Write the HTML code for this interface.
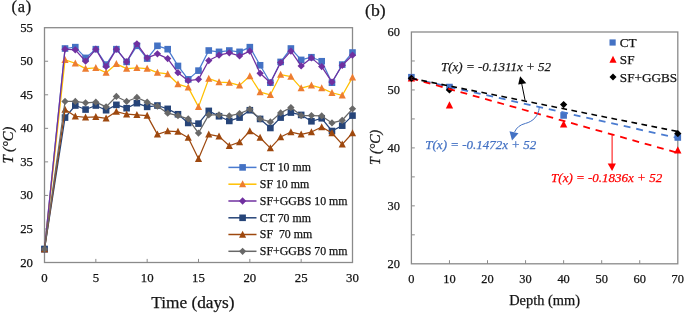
<!DOCTYPE html>
<html><head><meta charset="utf-8"><title>Temperature charts</title>
<style>html,body{margin:0;padding:0;background:#fff;}body{width:685px;height:313px;position:relative;overflow:hidden;font-family:"Liberation Serif",serif;}</style>
</head><body>
<svg width="685" height="313" viewBox="0 0 685 313" style="position:absolute;left:0;top:0;filter:blur(0.35px)">
<rect width="685" height="313" fill="#fff"/>
<rect x="44.5" y="27.7" width="308" height="234.8" fill="none" stroke="#8a8a8a" stroke-width="1.3"/>
<path d="M44.5 228.96h3.6M44.5 195.41h3.6M44.5 161.87h3.6M44.5 128.33h3.6M44.5 94.79h3.6M44.5 61.24h3.6M95.83 262.5v-3.6M147.17 262.5v-3.6M198.5 262.5v-3.6M249.83 262.5v-3.6M301.17 262.5v-3.6" stroke="#8a8a8a" stroke-width="1" fill="none"/>
<g font-family='"Liberation Serif", serif' font-size="12.8" fill="#141414" stroke="#141414" stroke-width="0.25">
<text x="33" y="266.5" text-anchor="end">20</text>
<text x="33" y="232.96" text-anchor="end">25</text>
<text x="33" y="199.41" text-anchor="end">30</text>
<text x="33" y="165.87" text-anchor="end">35</text>
<text x="33" y="132.33" text-anchor="end">40</text>
<text x="33" y="98.79" text-anchor="end">45</text>
<text x="33" y="65.24" text-anchor="end">50</text>
<text x="33" y="31.7" text-anchor="end">55</text>
<text x="44.5" y="282.4" text-anchor="middle">0</text>
<text x="95.83" y="282.4" text-anchor="middle">5</text>
<text x="147.17" y="282.4" text-anchor="middle">10</text>
<text x="198.5" y="282.4" text-anchor="middle">15</text>
<text x="249.83" y="282.4" text-anchor="middle">20</text>
<text x="301.17" y="282.4" text-anchor="middle">25</text>
<text x="352.5" y="282.4" text-anchor="middle">30</text>
</g>
<polyline points="44.5,249.08 65.03,48.5 75.3,47.15 85.57,57.89 95.83,49.17 106.1,64.6 116.37,49.17 126.63,61.91 136.9,45.81 147.17,58.56 157.43,45.81 167.7,49.17 177.97,65.94 188.23,79.36 198.5,70.63 208.77,50.51 219.03,51.85 229.3,50.51 239.57,51.85 249.83,47.15 260.1,65.27 270.37,82.71 280.63,61.91 290.9,48.5 301.17,59.9 311.43,57.22 321.7,61.24 331.97,82.71 342.23,64.6 352.5,52.52" fill="none" stroke="#4a7bd0" stroke-width="1.25" stroke-linejoin="round"/>
<rect x="41.2" y="245.78" width="6.6" height="6.6" fill="#4472c4"/><rect x="61.73" y="45.2" width="6.6" height="6.6" fill="#4472c4"/><rect x="72" y="43.85" width="6.6" height="6.6" fill="#4472c4"/><rect x="82.27" y="54.59" width="6.6" height="6.6" fill="#4472c4"/><rect x="92.53" y="45.87" width="6.6" height="6.6" fill="#4472c4"/><rect x="102.8" y="61.3" width="6.6" height="6.6" fill="#4472c4"/><rect x="113.07" y="45.87" width="6.6" height="6.6" fill="#4472c4"/><rect x="123.33" y="58.61" width="6.6" height="6.6" fill="#4472c4"/><rect x="133.6" y="42.51" width="6.6" height="6.6" fill="#4472c4"/><rect x="143.87" y="55.26" width="6.6" height="6.6" fill="#4472c4"/><rect x="154.13" y="42.51" width="6.6" height="6.6" fill="#4472c4"/><rect x="164.4" y="45.87" width="6.6" height="6.6" fill="#4472c4"/><rect x="174.67" y="62.64" width="6.6" height="6.6" fill="#4472c4"/><rect x="184.93" y="76.06" width="6.6" height="6.6" fill="#4472c4"/><rect x="195.2" y="67.33" width="6.6" height="6.6" fill="#4472c4"/><rect x="205.47" y="47.21" width="6.6" height="6.6" fill="#4472c4"/><rect x="215.73" y="48.55" width="6.6" height="6.6" fill="#4472c4"/><rect x="226" y="47.21" width="6.6" height="6.6" fill="#4472c4"/><rect x="236.27" y="48.55" width="6.6" height="6.6" fill="#4472c4"/><rect x="246.53" y="43.85" width="6.6" height="6.6" fill="#4472c4"/><rect x="256.8" y="61.97" width="6.6" height="6.6" fill="#4472c4"/><rect x="267.07" y="79.41" width="6.6" height="6.6" fill="#4472c4"/><rect x="277.33" y="58.61" width="6.6" height="6.6" fill="#4472c4"/><rect x="287.6" y="45.2" width="6.6" height="6.6" fill="#4472c4"/><rect x="297.87" y="56.6" width="6.6" height="6.6" fill="#4472c4"/><rect x="308.13" y="53.92" width="6.6" height="6.6" fill="#4472c4"/><rect x="318.4" y="57.94" width="6.6" height="6.6" fill="#4472c4"/><rect x="328.67" y="79.41" width="6.6" height="6.6" fill="#4472c4"/><rect x="338.93" y="61.3" width="6.6" height="6.6" fill="#4472c4"/><rect x="349.2" y="49.22" width="6.6" height="6.6" fill="#4472c4"/>
<polyline points="44.5,249.08 65.03,59.9 75.3,63.26 85.57,68.62 95.83,67.95 106.1,72.65 116.37,63.93 126.63,68.62 136.9,67.95 147.17,68.62 157.43,72.65 167.7,73.99 177.97,84.05 188.23,87.41 198.5,106.86 208.77,78.69 219.03,82.04 229.3,82.71 239.57,85.39 249.83,76 260.1,92.1 270.37,94.79 280.63,74.66 290.9,76.67 301.17,88.08 311.43,85.39 321.7,88.08 331.97,92.77 342.23,95.46 352.5,77.34" fill="none" stroke="#ffc000" stroke-width="1.25" stroke-linejoin="round"/>
<path d="M44.5 245.24L48.06 252.23L40.94 252.23Z" fill="#ed7d31"/><path d="M65.03 56.05L68.6 63.05L61.47 63.05Z" fill="#ed7d31"/><path d="M75.3 59.41L78.86 66.4L71.74 66.4Z" fill="#ed7d31"/><path d="M85.57 64.77L89.13 71.77L82 71.77Z" fill="#ed7d31"/><path d="M95.83 64.1L99.4 71.1L92.27 71.1Z" fill="#ed7d31"/><path d="M106.1 68.8L109.66 75.8L102.54 75.8Z" fill="#ed7d31"/><path d="M116.37 60.08L119.93 67.07L112.8 67.07Z" fill="#ed7d31"/><path d="M126.63 64.77L130.2 71.77L123.07 71.77Z" fill="#ed7d31"/><path d="M136.9 64.1L140.46 71.1L133.34 71.1Z" fill="#ed7d31"/><path d="M147.17 64.77L150.73 71.77L143.6 71.77Z" fill="#ed7d31"/><path d="M157.43 68.8L161 75.8L153.87 75.8Z" fill="#ed7d31"/><path d="M167.7 70.14L171.26 77.14L164.14 77.14Z" fill="#ed7d31"/><path d="M177.97 80.2L181.53 87.2L174.4 87.2Z" fill="#ed7d31"/><path d="M188.23 83.56L191.8 90.55L184.67 90.55Z" fill="#ed7d31"/><path d="M198.5 103.01L202.06 110.01L194.94 110.01Z" fill="#ed7d31"/><path d="M208.77 74.84L212.33 81.83L205.2 81.83Z" fill="#ed7d31"/><path d="M219.03 78.19L222.6 85.19L215.47 85.19Z" fill="#ed7d31"/><path d="M229.3 78.86L232.86 85.86L225.74 85.86Z" fill="#ed7d31"/><path d="M239.57 81.55L243.13 88.54L236 88.54Z" fill="#ed7d31"/><path d="M249.83 72.15L253.4 79.15L246.27 79.15Z" fill="#ed7d31"/><path d="M260.1 88.25L263.66 95.25L256.54 95.25Z" fill="#ed7d31"/><path d="M270.37 90.94L273.93 97.93L266.8 97.93Z" fill="#ed7d31"/><path d="M280.63 70.81L284.2 77.81L277.07 77.81Z" fill="#ed7d31"/><path d="M290.9 72.82L294.46 79.82L287.34 79.82Z" fill="#ed7d31"/><path d="M301.17 84.23L304.73 91.23L297.6 91.23Z" fill="#ed7d31"/><path d="M311.43 81.55L315 88.54L307.87 88.54Z" fill="#ed7d31"/><path d="M321.7 84.23L325.26 91.23L318.14 91.23Z" fill="#ed7d31"/><path d="M331.97 88.93L335.53 95.92L328.4 95.92Z" fill="#ed7d31"/><path d="M342.23 91.61L345.8 98.6L338.67 98.6Z" fill="#ed7d31"/><path d="M352.5 73.5L356.06 80.49L348.94 80.49Z" fill="#ed7d31"/>
<polyline points="44.5,249.08 65.03,49.17 75.3,49.84 85.57,61.24 95.83,49.17 106.1,66.61 116.37,49.17 126.63,61.91 136.9,43.8 147.17,57.89 157.43,53.86 167.7,58.56 177.97,72.65 188.23,80.7 198.5,79.36 208.77,60.57 219.03,55.21 229.3,52.86 239.57,55.88 249.83,51.18 260.1,73.32 270.37,82.71 280.63,62.58 290.9,51.18 301.17,65.94 311.43,57.89 321.7,66.61 331.97,82.04 342.23,65.27 352.5,55.21" fill="none" stroke="#7030a0" stroke-width="1.25" stroke-linejoin="round"/>
<path d="M44.5 245.45L48.13 249.08L44.5 252.71L40.87 249.08Z" fill="#7030a0"/><path d="M65.03 45.54L68.66 49.17L65.03 52.8L61.4 49.17Z" fill="#7030a0"/><path d="M75.3 46.21L78.93 49.84L75.3 53.47L71.67 49.84Z" fill="#7030a0"/><path d="M85.57 57.61L89.2 61.24L85.57 64.87L81.94 61.24Z" fill="#7030a0"/><path d="M95.83 45.54L99.46 49.17L95.83 52.8L92.2 49.17Z" fill="#7030a0"/><path d="M106.1 62.98L109.73 66.61L106.1 70.24L102.47 66.61Z" fill="#7030a0"/><path d="M116.37 45.54L120 49.17L116.37 52.8L112.74 49.17Z" fill="#7030a0"/><path d="M126.63 58.28L130.26 61.91L126.63 65.54L123 61.91Z" fill="#7030a0"/><path d="M136.9 40.17L140.53 43.8L136.9 47.43L133.27 43.8Z" fill="#7030a0"/><path d="M147.17 54.26L150.8 57.89L147.17 61.52L143.54 57.89Z" fill="#7030a0"/><path d="M157.43 50.23L161.06 53.86L157.43 57.49L153.8 53.86Z" fill="#7030a0"/><path d="M167.7 54.93L171.33 58.56L167.7 62.19L164.07 58.56Z" fill="#7030a0"/><path d="M177.97 69.02L181.6 72.65L177.97 76.28L174.34 72.65Z" fill="#7030a0"/><path d="M188.23 77.07L191.86 80.7L188.23 84.33L184.6 80.7Z" fill="#7030a0"/><path d="M198.5 75.73L202.13 79.36L198.5 82.99L194.87 79.36Z" fill="#7030a0"/><path d="M208.77 56.94L212.4 60.57L208.77 64.2L205.14 60.57Z" fill="#7030a0"/><path d="M219.03 51.58L222.66 55.21L219.03 58.84L215.4 55.21Z" fill="#7030a0"/><path d="M229.3 49.23L232.93 52.86L229.3 56.49L225.67 52.86Z" fill="#7030a0"/><path d="M239.57 52.25L243.2 55.88L239.57 59.51L235.94 55.88Z" fill="#7030a0"/><path d="M249.83 47.55L253.46 51.18L249.83 54.81L246.2 51.18Z" fill="#7030a0"/><path d="M260.1 69.69L263.73 73.32L260.1 76.95L256.47 73.32Z" fill="#7030a0"/><path d="M270.37 79.08L274 82.71L270.37 86.34L266.74 82.71Z" fill="#7030a0"/><path d="M280.63 58.95L284.26 62.58L280.63 66.21L277 62.58Z" fill="#7030a0"/><path d="M290.9 47.55L294.53 51.18L290.9 54.81L287.27 51.18Z" fill="#7030a0"/><path d="M301.17 62.31L304.8 65.94L301.17 69.57L297.54 65.94Z" fill="#7030a0"/><path d="M311.43 54.26L315.06 57.89L311.43 61.52L307.8 57.89Z" fill="#7030a0"/><path d="M321.7 62.98L325.33 66.61L321.7 70.24L318.07 66.61Z" fill="#7030a0"/><path d="M331.97 78.41L335.6 82.04L331.97 85.67L328.34 82.04Z" fill="#7030a0"/><path d="M342.23 61.64L345.86 65.27L342.23 68.9L338.6 65.27Z" fill="#7030a0"/><path d="M352.5 51.58L356.13 55.21L352.5 58.84L348.87 55.21Z" fill="#7030a0"/>
<polyline points="44.5,249.08 65.03,117.59 75.3,105.52 85.57,109.54 95.83,105.52 106.1,110.22 116.37,104.85 126.63,108.2 136.9,103.17 147.17,106.86 157.43,105.52 167.7,108.87 177.97,114.24 188.23,122.96 198.5,123.63 208.77,110.89 219.03,116.25 229.3,120.95 239.57,117.59 249.83,110.22 260.1,118.94 270.37,127.99 280.63,117.59 290.9,112.56 301.17,114.91 311.43,121.28 321.7,118.27 331.97,131.01 342.23,125.65 352.5,115.58" fill="none" stroke="#264478" stroke-width="1.25" stroke-linejoin="round"/>
<rect x="41.2" y="245.78" width="6.6" height="6.6" fill="#264478"/><rect x="61.73" y="114.29" width="6.6" height="6.6" fill="#264478"/><rect x="72" y="102.22" width="6.6" height="6.6" fill="#264478"/><rect x="82.27" y="106.24" width="6.6" height="6.6" fill="#264478"/><rect x="92.53" y="102.22" width="6.6" height="6.6" fill="#264478"/><rect x="102.8" y="106.92" width="6.6" height="6.6" fill="#264478"/><rect x="113.07" y="101.55" width="6.6" height="6.6" fill="#264478"/><rect x="123.33" y="104.9" width="6.6" height="6.6" fill="#264478"/><rect x="133.6" y="99.87" width="6.6" height="6.6" fill="#264478"/><rect x="143.87" y="103.56" width="6.6" height="6.6" fill="#264478"/><rect x="154.13" y="102.22" width="6.6" height="6.6" fill="#264478"/><rect x="164.4" y="105.57" width="6.6" height="6.6" fill="#264478"/><rect x="174.67" y="110.94" width="6.6" height="6.6" fill="#264478"/><rect x="184.93" y="119.66" width="6.6" height="6.6" fill="#264478"/><rect x="195.2" y="120.33" width="6.6" height="6.6" fill="#264478"/><rect x="205.47" y="107.59" width="6.6" height="6.6" fill="#264478"/><rect x="215.73" y="112.95" width="6.6" height="6.6" fill="#264478"/><rect x="226" y="117.65" width="6.6" height="6.6" fill="#264478"/><rect x="236.27" y="114.29" width="6.6" height="6.6" fill="#264478"/><rect x="246.53" y="106.92" width="6.6" height="6.6" fill="#264478"/><rect x="256.8" y="115.64" width="6.6" height="6.6" fill="#264478"/><rect x="267.07" y="124.69" width="6.6" height="6.6" fill="#264478"/><rect x="277.33" y="114.29" width="6.6" height="6.6" fill="#264478"/><rect x="287.6" y="109.26" width="6.6" height="6.6" fill="#264478"/><rect x="297.87" y="111.61" width="6.6" height="6.6" fill="#264478"/><rect x="308.13" y="117.98" width="6.6" height="6.6" fill="#264478"/><rect x="318.4" y="114.97" width="6.6" height="6.6" fill="#264478"/><rect x="328.67" y="127.71" width="6.6" height="6.6" fill="#264478"/><rect x="338.93" y="122.35" width="6.6" height="6.6" fill="#264478"/><rect x="349.2" y="112.28" width="6.6" height="6.6" fill="#264478"/>
<polyline points="44.5,249.08 65.03,109.54 75.3,116.25 85.57,117.26 95.83,116.92 106.1,118.27 116.37,111.56 126.63,114.24 136.9,114.91 147.17,115.58 157.43,134.37 167.7,131.01 177.97,131.68 188.23,137.72 198.5,158.85 208.77,134.37 219.03,136.38 229.3,145.77 239.57,142.08 249.83,131.01 260.1,137.72 270.37,148.12 280.63,137.05 290.9,132.02 301.17,134.37 311.43,132.02 321.7,126.99 331.97,133.02 342.23,144.43 352.5,133.02" fill="none" stroke="#9e480e" stroke-width="1.25" stroke-linejoin="round"/>
<path d="M44.5 245.24L48.06 252.23L40.94 252.23Z" fill="#9e480e"/><path d="M65.03 105.7L68.6 112.69L61.47 112.69Z" fill="#9e480e"/><path d="M75.3 112.41L78.86 119.4L71.74 119.4Z" fill="#9e480e"/><path d="M85.57 113.41L89.13 120.41L82 120.41Z" fill="#9e480e"/><path d="M95.83 113.08L99.4 120.07L92.27 120.07Z" fill="#9e480e"/><path d="M106.1 114.42L109.66 121.41L102.54 121.41Z" fill="#9e480e"/><path d="M116.37 107.71L119.93 114.71L112.8 114.71Z" fill="#9e480e"/><path d="M126.63 110.39L130.2 117.39L123.07 117.39Z" fill="#9e480e"/><path d="M136.9 111.06L140.46 118.06L133.34 118.06Z" fill="#9e480e"/><path d="M147.17 111.73L150.73 118.73L143.6 118.73Z" fill="#9e480e"/><path d="M157.43 130.52L161 137.51L153.87 137.51Z" fill="#9e480e"/><path d="M167.7 127.16L171.26 134.16L164.14 134.16Z" fill="#9e480e"/><path d="M177.97 127.84L181.53 134.83L174.4 134.83Z" fill="#9e480e"/><path d="M188.23 133.87L191.8 140.87L184.67 140.87Z" fill="#9e480e"/><path d="M198.5 155L202.06 162L194.94 162Z" fill="#9e480e"/><path d="M208.77 130.52L212.33 137.51L205.2 137.51Z" fill="#9e480e"/><path d="M219.03 132.53L222.6 139.53L215.47 139.53Z" fill="#9e480e"/><path d="M229.3 141.92L232.86 148.92L225.74 148.92Z" fill="#9e480e"/><path d="M239.57 138.23L243.13 145.23L236 145.23Z" fill="#9e480e"/><path d="M249.83 127.16L253.4 134.16L246.27 134.16Z" fill="#9e480e"/><path d="M260.1 133.87L263.66 140.87L256.54 140.87Z" fill="#9e480e"/><path d="M270.37 144.27L273.93 151.27L266.8 151.27Z" fill="#9e480e"/><path d="M280.63 133.2L284.2 140.2L277.07 140.2Z" fill="#9e480e"/><path d="M290.9 128.17L294.46 135.17L287.34 135.17Z" fill="#9e480e"/><path d="M301.17 130.52L304.73 137.51L297.6 137.51Z" fill="#9e480e"/><path d="M311.43 128.17L315 135.17L307.87 135.17Z" fill="#9e480e"/><path d="M321.7 123.14L325.26 130.14L318.14 130.14Z" fill="#9e480e"/><path d="M331.97 129.18L335.53 136.17L328.4 136.17Z" fill="#9e480e"/><path d="M342.23 140.58L345.8 147.58L338.67 147.58Z" fill="#9e480e"/><path d="M352.5 129.18L356.06 136.17L348.94 136.17Z" fill="#9e480e"/>
<polyline points="44.5,249.08 65.03,101.49 75.3,101.49 85.57,102.84 95.83,102.17 106.1,106.86 116.37,96.46 126.63,101.49 136.9,97.47 147.17,102.17 157.43,106.19 167.7,113.23 177.97,115.58 188.23,118.94 198.5,133.02 208.77,114.91 219.03,114.91 229.3,115.92 239.57,113.57 249.83,109.21 260.1,118.94 270.37,121.96 280.63,112.9 290.9,107.53 301.17,115.58 311.43,115.58 321.7,115.92 331.97,122.96 342.23,120.28 352.5,108.87" fill="none" stroke="#686868" stroke-width="1.25" stroke-linejoin="round"/>
<path d="M44.5 245.45L48.13 249.08L44.5 252.71L40.87 249.08Z" fill="#686868"/><path d="M65.03 97.86L68.66 101.49L65.03 105.12L61.4 101.49Z" fill="#686868"/><path d="M75.3 97.86L78.93 101.49L75.3 105.12L71.67 101.49Z" fill="#686868"/><path d="M85.57 99.21L89.2 102.84L85.57 106.47L81.94 102.84Z" fill="#686868"/><path d="M95.83 98.54L99.46 102.17L95.83 105.8L92.2 102.17Z" fill="#686868"/><path d="M106.1 103.23L109.73 106.86L106.1 110.49L102.47 106.86Z" fill="#686868"/><path d="M116.37 92.83L120 96.46L116.37 100.09L112.74 96.46Z" fill="#686868"/><path d="M126.63 97.86L130.26 101.49L126.63 105.12L123 101.49Z" fill="#686868"/><path d="M136.9 93.84L140.53 97.47L136.9 101.1L133.27 97.47Z" fill="#686868"/><path d="M147.17 98.54L150.8 102.17L147.17 105.8L143.54 102.17Z" fill="#686868"/><path d="M157.43 102.56L161.06 106.19L157.43 109.82L153.8 106.19Z" fill="#686868"/><path d="M167.7 109.6L171.33 113.23L167.7 116.86L164.07 113.23Z" fill="#686868"/><path d="M177.97 111.95L181.6 115.58L177.97 119.21L174.34 115.58Z" fill="#686868"/><path d="M188.23 115.31L191.86 118.94L188.23 122.57L184.6 118.94Z" fill="#686868"/><path d="M198.5 129.39L202.13 133.02L198.5 136.65L194.87 133.02Z" fill="#686868"/><path d="M208.77 111.28L212.4 114.91L208.77 118.54L205.14 114.91Z" fill="#686868"/><path d="M219.03 111.28L222.66 114.91L219.03 118.54L215.4 114.91Z" fill="#686868"/><path d="M229.3 112.29L232.93 115.92L229.3 119.55L225.67 115.92Z" fill="#686868"/><path d="M239.57 109.94L243.2 113.57L239.57 117.2L235.94 113.57Z" fill="#686868"/><path d="M249.83 105.58L253.46 109.21L249.83 112.84L246.2 109.21Z" fill="#686868"/><path d="M260.1 115.31L263.73 118.94L260.1 122.57L256.47 118.94Z" fill="#686868"/><path d="M270.37 118.33L274 121.96L270.37 125.59L266.74 121.96Z" fill="#686868"/><path d="M280.63 109.27L284.26 112.9L280.63 116.53L277 112.9Z" fill="#686868"/><path d="M290.9 103.9L294.53 107.53L290.9 111.16L287.27 107.53Z" fill="#686868"/><path d="M301.17 111.95L304.8 115.58L301.17 119.21L297.54 115.58Z" fill="#686868"/><path d="M311.43 111.95L315.06 115.58L311.43 119.21L307.8 115.58Z" fill="#686868"/><path d="M321.7 112.29L325.33 115.92L321.7 119.55L318.07 115.92Z" fill="#686868"/><path d="M331.97 119.33L335.6 122.96L331.97 126.59L328.34 122.96Z" fill="#686868"/><path d="M342.23 116.65L345.86 120.28L342.23 123.91L338.6 120.28Z" fill="#686868"/><path d="M352.5 105.24L356.13 108.87L352.5 112.5L348.87 108.87Z" fill="#686868"/>
<path d="M228.4 167.4H256.5" stroke="#4a7bd0" stroke-width="1.5"/>
<rect x="239.3" y="164.1" width="6.6" height="6.6" fill="#4472c4"/>
<path d="M228.4 184.2H256.5" stroke="#ffc000" stroke-width="1.5"/>
<path d="M242.6 180.35L246.16 187.35L239.04 187.35Z" fill="#ed7d31"/>
<path d="M228.4 201H256.5" stroke="#7030a0" stroke-width="1.5"/>
<path d="M242.6 197.37L246.23 201L242.6 204.63L238.97 201Z" fill="#7030a0"/>
<path d="M228.4 217.8H256.5" stroke="#264478" stroke-width="1.5"/>
<rect x="239.3" y="214.5" width="6.6" height="6.6" fill="#264478"/>
<path d="M228.4 234.5H256.5" stroke="#9e480e" stroke-width="1.5"/>
<path d="M242.6 230.65L246.16 237.65L239.04 237.65Z" fill="#9e480e"/>
<path d="M228.4 251.3H256.5" stroke="#686868" stroke-width="1.5"/>
<path d="M242.6 247.67L246.23 251.3L242.6 254.93L238.97 251.3Z" fill="#686868"/>
<g font-family='"Liberation Serif", serif' font-size="11.85" fill="#141414" stroke="#141414" stroke-width="0.25">
<text x="259.8" y="171.3">CT 10 mm</text>
<text x="259.8" y="188.1">SF 10 mm</text>
<text x="259.8" y="204.9">SF+GGBS 10 mm</text>
<text x="259.8" y="221.7">CT 70 mm</text>
<text x="259.8" y="238.4">SF  70 mm</text>
<text x="259.8" y="255.2">SF+GGBS 70 mm</text>
</g>
<text x="11.6" y="12.1" font-family='"Liberation Serif", serif' font-size="16.4" letter-spacing="0.75" fill="#141414" stroke="#141414" stroke-width="0.25">(a)</text>
<text x="192.9" y="308.3" text-anchor="middle" font-family='"Liberation Serif", serif' font-size="17.3" fill="#141414" stroke="#141414" stroke-width="0.25">Time (days)</text>
<text transform="translate(12.9 145) rotate(-90)" text-anchor="middle" font-family='"Liberation Serif", serif' font-size="14.6" font-style="italic" fill="#141414" stroke="#141414" stroke-width="0.25">T (°C)</text>
<rect x="411.4" y="32" width="266.4" height="231.8" fill="none" stroke="#8a8a8a" stroke-width="1.3"/>
<path d="M411.4 234.83h3.4M411.4 205.85h3.4M411.4 176.88h3.4M411.4 147.9h3.4M411.4 118.93h3.4M411.4 89.95h3.4M411.4 60.98h3.4M449.46 263.8v-3.6M487.51 263.8v-3.6M525.57 263.8v-3.6M563.63 263.8v-3.6M601.69 263.8v-3.6M639.74 263.8v-3.6" stroke="#8a8a8a" stroke-width="1" fill="none"/>
<g font-family='"Liberation Serif", serif' font-size="12.4" fill="#141414" stroke="#141414" stroke-width="0.25">
<text x="400" y="267.8" text-anchor="end">20</text>
<text x="400" y="209.85" text-anchor="end">30</text>
<text x="400" y="151.9" text-anchor="end">40</text>
<text x="400" y="93.95" text-anchor="end">50</text>
<text x="400" y="36" text-anchor="end">60</text>
<text x="411.4" y="283.3" text-anchor="middle">0</text>
<text x="449.46" y="283.3" text-anchor="middle">10</text>
<text x="487.51" y="283.3" text-anchor="middle">20</text>
<text x="525.57" y="283.3" text-anchor="middle">30</text>
<text x="563.63" y="283.3" text-anchor="middle">40</text>
<text x="601.69" y="283.3" text-anchor="middle">50</text>
<text x="639.74" y="283.3" text-anchor="middle">60</text>
<text x="677.8" y="283.3" text-anchor="middle">70</text>
</g>
<text x="365.1" y="15.6" font-family='"Liberation Serif", serif' font-size="17.7" fill="#141414" stroke="#141414" stroke-width="0.25">(b)</text>
<text x="544.6" y="305" text-anchor="middle" font-family='"Liberation Serif", serif' font-size="14.4" fill="#141414" stroke="#141414" stroke-width="0.25">Depth (mm)</text>
<text transform="translate(380 147.4) rotate(-90)" text-anchor="middle" font-family='"Liberation Serif", serif' font-size="14" font-style="italic" fill="#141414" stroke="#141414" stroke-width="0.25">T (°C)</text>
<rect x="408.1" y="73.9" width="6.6" height="6.6" fill="#4472c4"/><rect x="446.16" y="83.75" width="6.6" height="6.6" fill="#4472c4"/><rect x="560.33" y="112.15" width="6.6" height="6.6" fill="#4472c4"/><rect x="674.5" y="134.17" width="6.6" height="6.6" fill="#4472c4"/>
<path d="M411.4 74.4L415.07 81.6L407.73 81.6Z" fill="#ff0000"/><path d="M449.46 101.34L453.13 108.55L445.79 108.55Z" fill="#ff0000"/><path d="M563.63 120.18L567.3 127.38L559.96 127.38Z" fill="#ff0000"/><path d="M677.8 146.25L681.47 153.46L674.13 153.46Z" fill="#ff0000"/>
<path d="M411.4 74.73L415.03 78.36L411.4 81.99L407.77 78.36Z" fill="#000000"/><path d="M449.46 86.32L453.09 89.95L449.46 93.58L445.83 89.95Z" fill="#000000"/><path d="M563.63 100.92L567.26 104.55L563.63 108.18L560 104.55Z" fill="#000000"/><path d="M677.8 129.96L681.43 133.59L677.8 137.22L674.17 133.59Z" fill="#000000"/>
<line x1="411.4" y1="78.36" x2="677.8" y2="138.07" stroke="#4a7bd0" stroke-width="1.8" stroke-dasharray="6.9 5.9"/>
<line x1="411.4" y1="78.36" x2="677.8" y2="152.84" stroke="#ff0000" stroke-width="1.8" stroke-dasharray="6.9 5.85"/>
<line x1="411.4" y1="78.36" x2="677.8" y2="131.54" stroke="#000000" stroke-width="1.6" stroke-dasharray="5.7 4.5"/>
<rect x="609.5" y="39.4" width="6.2" height="6.2" fill="#4472c4"/>
<path d="M613 55.85L616.56 62.85L609.44 62.85Z" fill="#ff0000"/>
<path d="M613 73.48L616.52 77L613 80.52L609.48 77Z" fill="#000000"/>
<g font-family='"Liberation Serif", serif' font-size="13.2" fill="#141414" stroke="#141414" stroke-width="0.25">
<text x="619.8" y="46.9">CT</text>
<text x="619.8" y="64.4">SF</text>
<text x="619.8" y="81.8">SF+GGBS</text>
</g>
<g font-family='"Liberation Serif", serif' font-size="13" font-style="italic">
<text x="441" y="71.4" fill="#1a1a1a" stroke="#1a1a1a" stroke-width="0.25">T(x) = -0.1311x + 52</text>
<text x="425.3" y="148.7" fill="#4472c4" stroke="#4472c4" stroke-width="0.25">T(x) = -0.1472x + 52</text>
<text x="551.1" y="182.3" fill="#ff0000" stroke="#ff0000" stroke-width="0.25">T(x) = -0.1836x + 52</text>
</g>
<path d="M525.1 100.4L521.6 83.2" stroke="#000" stroke-width="1"/>
<path d="M520.1 76.2L526.3 83.2L518.2 84.6Z" fill="#000"/>
<path d="M539.3 107.2C538.6 116 533 121.5 525.5 123.4C520 124.8 516.5 127.6 514.6 132" stroke="#4472c4" stroke-width="1" fill="none"/>
<path d="M512 140.6L509.5 131.2L518.5 133.3Z" fill="#4472c4"/>
<path d="M612.1 134.6V164" stroke="#ff0000" stroke-width="1"/>
<path d="M607.7 163.6H615.9L612.1 171Z" fill="#ff0000"/>
</svg>
</body></html>
